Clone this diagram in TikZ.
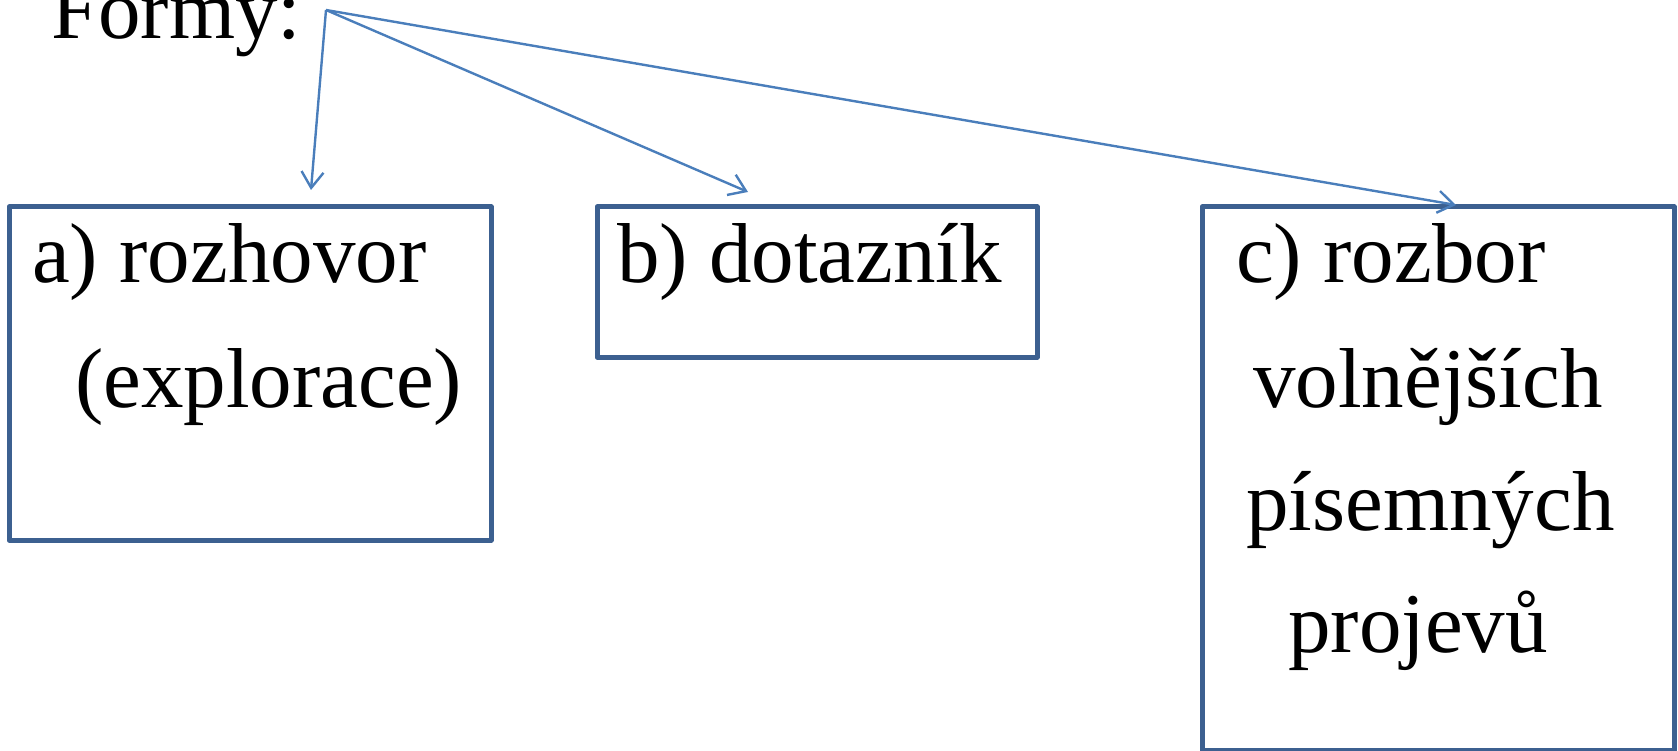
\documentclass[tikz,border=0pt]{standalone}
\usepackage{fontspec}
\setmainfont{Liberation Serif}
\usetikzlibrary{arrows.meta}
\definecolor{boxblue}{HTML}{3C6090}
\definecolor{arrowblue}{HTML}{4A7EBB}
\begin{document}
\begin{tikzpicture}[x=1pt,y=-1pt,
  formbox/.style={draw=boxblue,line width=5pt,line join=round},
  txt/.style={inner sep=0pt,anchor=base west,font=\fontsize{85}{100}\selectfont},
  conn/.style={draw=arrowblue,line width=2.4pt,
    -{Straight Barb[length=16pt,width=22pt,line width=2.4pt]}}]
\useasboundingbox (0,0) rectangle (1678,751);
% boxes
\draw[formbox] (9,207) rectangle (491,540);
\node[inner sep=0pt] (boxa) at (250,373.5) {};
\draw[formbox] (597,207) rectangle (1037,357);
\node[inner sep=0pt] (boxb) at (817,282) {};
\draw[formbox] (1202,207) rectangle (1674,750);
\node[inner sep=0pt] (boxc) at (1438,478.5) {};
% texts
\node[txt] (formy) at (51,39) {Formy:};
\node[txt] (a1) at (32,283) {a) rozhovor};
\node[txt] (a2) at (75,407) {(explorace)};
\node[txt] (b1) at (617,283) {b) dotazník};
\node[txt] (c1) at (1236,283) {c) rozbor};
\node[txt] (c2) at (1253,407) {volnějších};
\node[txt] (c3) at (1246,530) {písemných};
\node[txt] (c4) at (1288,652) {projevů};
% connectors
\coordinate (o) at (326,10);
\coordinate (ta) at (311,190);
\coordinate (tb) at (748,192);
\coordinate (tc) at (1456,205);
\draw[conn] (o) -- (ta);
\draw[conn] (o) -- (tb);
\draw[conn] (o) -- (tc);
\end{tikzpicture}
\end{document}
